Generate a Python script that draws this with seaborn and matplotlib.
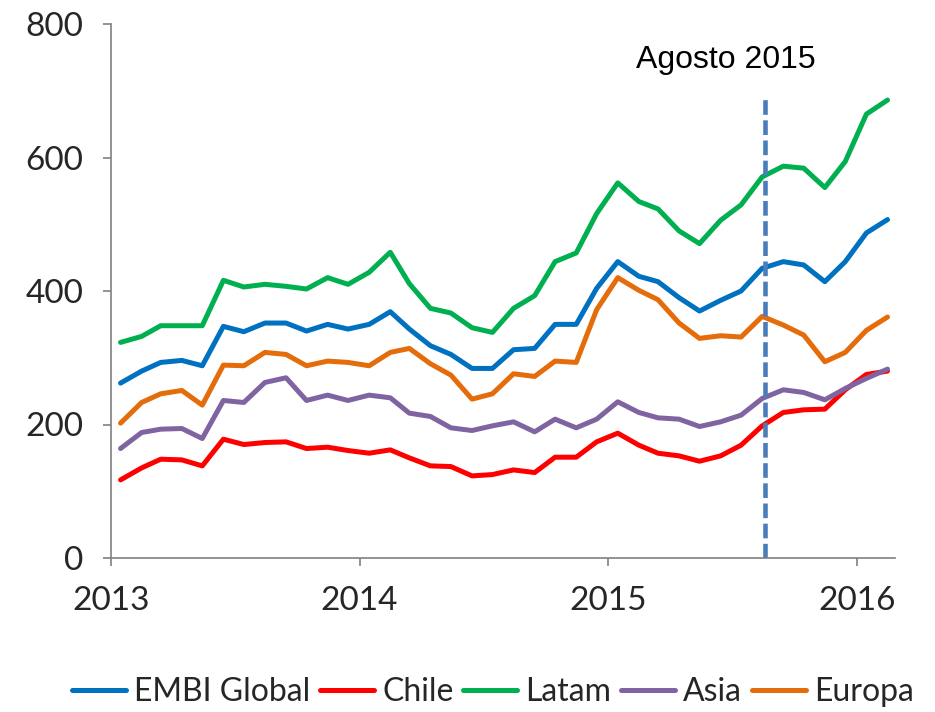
import pandas as pd
import matplotlib.pyplot as plt
import seaborn as sns

# Datos mensuales (ene 2013 - feb 2016), spreads en pb
months = pd.date_range('2013-01-01', periods=38, freq='MS') + pd.Timedelta(days=14)

embi = [262, 280, 293, 296, 288, 347, 339, 352, 352, 340, 350, 343, 350, 369, 343, 318,
        305, 284, 284, 312, 314, 350, 350, 404, 444, 422, 414, 390, 370, 386, 400, 434,
        444, 439, 414, 444, 487, 507]
chile = [117, 135, 148, 147, 138, 178, 170, 173, 174, 164, 166, 161, 157, 162, 150, 138,
         137, 123, 125, 132, 128, 151, 151, 174, 187, 169, 157, 153, 145, 153, 169, 198,
         218, 222, 223, 252, 275, 280]
latam = [323, 332, 348, 348, 348, 416, 406, 410, 407, 403, 420, 410, 428, 458, 411, 374,
         367, 345, 338, 374, 393, 444, 457, 516, 562, 534, 523, 490, 471, 506, 529, 571,
         587, 584, 555, 594, 665, 686]
asia = [164, 188, 193, 194, 179, 236, 233, 263, 270, 236, 244, 236, 244, 240, 217, 212,
        195, 191, 198, 204, 189, 208, 195, 208, 234, 218, 210, 208, 197, 204, 214, 239,
        252, 248, 237, 254, 269, 283]
europa = [202, 233, 246, 251, 229, 289, 288, 308, 305, 288, 295, 293, 288, 308, 314, 291,
          274, 238, 246, 276, 272, 295, 293, 372, 420, 401, 387, 352, 329, 333, 331, 362,
          349, 334, 294, 308, 341, 361]

series_names = ['EMBI Global', 'Chile', 'Latam', 'Asia', 'Europa']
colores = ['#0070C0', '#FF0000', '#00B050', '#8064A2', '#E46C0A']
marca_fecha = pd.Timestamp('2015-08-19')
marca_texto = 'Agosto 2015'

df = pd.DataFrame({'fecha': months, 'EMBI Global': embi, 'Chile': chile,
                   'Latam': latam, 'Asia': asia, 'Europa': europa})
df_long = df.melt(id_vars='fecha', var_name='serie', value_name='spread')

sns.set_style('white')
plt.rcParams['font.family'] = ['Lato', 'DejaVu Sans']

fig = plt.figure(figsize=(9.35, 7.12), dpi=100)
ax = fig.add_axes([111 / 935, 154 / 712, 784 / 935, 534 / 712])

sns.lineplot(data=df_long, x='fecha', y='spread', hue='serie', hue_order=series_names,
             palette=colores, linewidth=3.6, ax=ax)

# Línea vertical de referencia
ax.axvline(marca_fecha, ymin=0, ymax=692 / 800, color='#4A7EBB', linewidth=3.3,
           linestyle=(0, (3.2, 1.2)))
ax.text(pd.Timestamp('2015-06-23'), 746, marca_texto, ha='center', va='center',
        fontsize=23, family=['Liberation Sans', 'DejaVu Sans'], color='black')

ax.set_ylim(0, 800)
ax.set_yticks([0, 200, 400, 600, 800])
ax.set_xlim(pd.Timestamp('2013-01-01'), pd.Timestamp('2016-02-26'))
ax.set_xticks(pd.to_datetime(['2013-01-01', '2014-01-01', '2015-01-01', '2016-01-01']))
ax.set_xticklabels(['2013', '2014', '2015', '2016'])
ax.set_xlabel('')
ax.set_ylabel('')

for side in ['top', 'right']:
    ax.spines[side].set_visible(False)
for side in ['left', 'bottom']:
    ax.spines[side].set_color('#808080')
    ax.spines[side].set_linewidth(1.2)

ax.tick_params(axis='both', direction='out', length=6, width=1.2, color='#808080',
               labelsize=24, labelcolor='#262626', left=True, bottom=True)
ax.tick_params(axis='y', pad=14)
ax.tick_params(axis='x', pad=14)

handles, labels = ax.get_legend_handles_labels()
ax.legend(handles, labels, loc='center', bbox_to_anchor=(0.527, 0.028),
          bbox_transform=fig.transFigure, ncol=5, frameon=False, fontsize=23,
          handlelength=1.7, handletextpad=0.25, columnspacing=0.3, borderaxespad=0)

fig.savefig('out.png', dpi=100)
